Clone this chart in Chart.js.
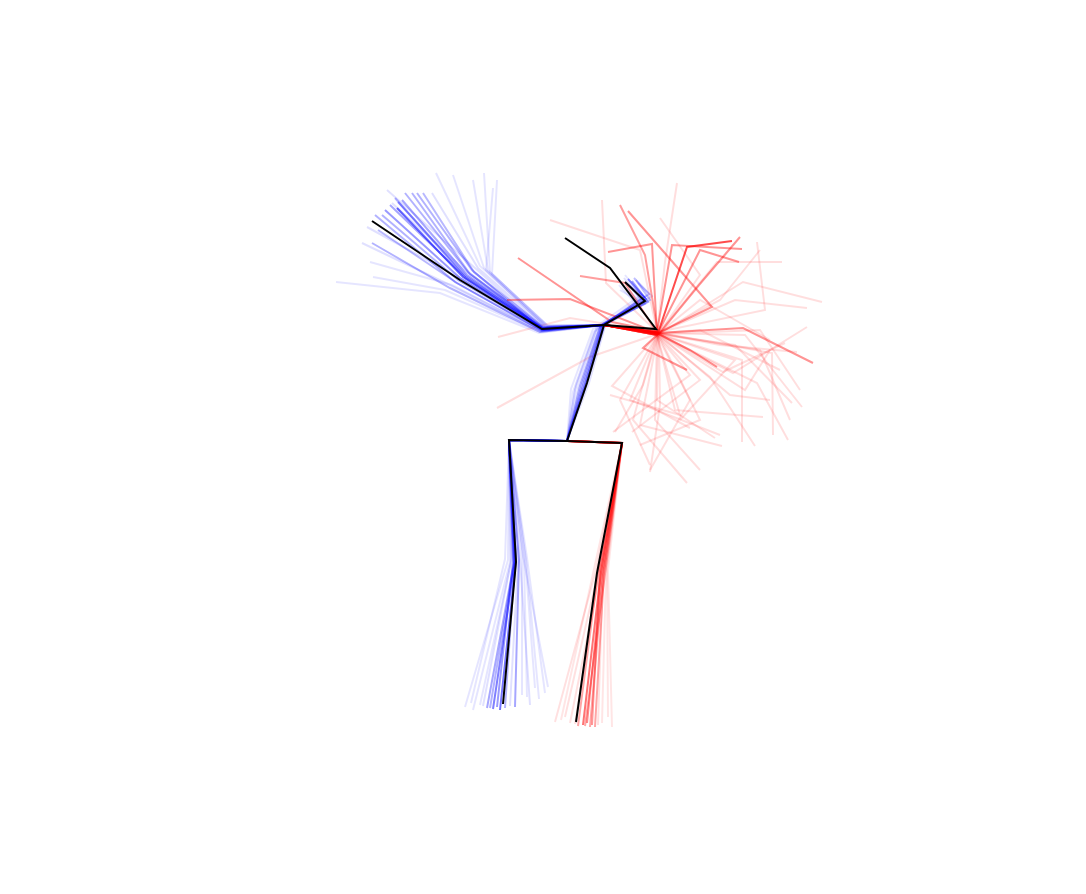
<!DOCTYPE html>
<html><head><meta charset="utf-8">
<script src="https://cdn.jsdelivr.net/npm/chart.js@4"></script>
<style>html,body{margin:0;padding:0;background:#fff;}canvas{display:block;}</style>
</head><body>
<canvas id="c" width="1086" height="894"></canvas>
<script>
// Root-relative 2D keypoints (pelvis = origin, y downward)
const meanLeftLeg = [[0,0],[-58,-1],[-51,121],[-64,263]];
const meanRightLeg = [[0,0],[55,2],[30,132],[9,281]];
const meanTorso = [[0,0],[20,-58],[37,-116],[78,-140],[58,-159]];
const meanLeftArm = [[37,-116],[-25,-112],[-107,-161],[-195,-220]];
const meanRightArm = [[37,-116],[89,-112],[43,-173],[-2,-203]];

const leftLegSamples = [
 [[0,0],[-58,-1],[-59,119],[-102,266]],
 [[0,0],[-58,-1],[-57,121],[-94,269]],
 [[0,0],[-58,-1],[-55,117],[-87,264]],
 [[0,0],[-58,-1],[-53,122],[-80,267]],
 [[0,0],[-58,-1],[-52,120],[-74,268]],
 [[0,0],[-58,-1],[-54,121],[-70,266]],
 [[0,0],[-58,-1],[-51,119],[-67,269]],
 [[0,0],[-58,-1],[-52,120],[-62,267]],
 [[0,0],[-58,-1],[-49,122],[-57,265]],
 [[0,0],[-58,-1],[-48,119],[-52,266]],
 [[0,0],[-58,-1],[-45,117],[-45,254]],
 [[0,0],[-58,-1],[-43,119],[-40,256]],
 [[0,0],[-58,-1],[-42,115],[-32,247]],
 [[0,0],[-58,-1],[-40,117],[-22,252]],
 [[0,0],[-58,-1],[-44,115],[-19,246]],
 [[0,0],[-58,-1],[-53,123],[-77,267]],
 [[0,0],[-58,-1],[-56,120],[-84,265]],
 [[0,0],[-58,-1],[-47,119],[-37,264]],
 [[0,0],[-58,-1],[-62,118],[-96,262]],
 [[0,0],[-58,-1],[-41,118],[-28,258]]
];
const leftLegAlpha = [0.1,0.1,0.1,0.35,0.5,0.4,0.55,0.3,0.12,0.35,0.1,0.1,0.1,0.1,0.1,0.3,0.12,0.12,0.1,0.1];

const rightLegSamples = [
 [[0,0],[55,2],[29,129],[-12,281]],
 [[0,0],[55,2],[31,131],[-2,276]],
 [[0,0],[55,2],[33,133],[3,282]],
 [[0,0],[55,2],[31,132],[11,285]],
 [[0,0],[55,2],[34,131],[16,284]],
 [[0,0],[55,2],[35,133],[20,282]],
 [[0,0],[55,2],[33,130],[25,284]],
 [[0,0],[55,2],[37,132],[28,286]],
 [[0,0],[55,2],[36,129],[31,284]],
 [[0,0],[55,2],[39,131],[35,282]],
 [[0,0],[55,2],[40,128],[41,276]],
 [[0,0],[55,2],[41,130],[45,286]],
 [[0,0],[55,2],[36,134],[23,286]],
 [[0,0],[55,2],[32,129],[8,283]],
 [[0,0],[55,2],[38,133],[18,285]],
 [[0,0],[55,2],[27,128],[-6,279]]
];
const rightLegAlpha = [0.12,0.12,0.12,0.35,0.55,0.45,0.4,0.35,0.12,0.1,0.1,0.1,0.35,0.12,0.35,0.1];

const torsoSamples = [
 [[0,0],[18,-57],[36,-117],[79,-142],[61,-162]],
 [[0,0],[16,-56],[35,-115],[81,-139],[65,-160]],
 [[0,0],[13,-55],[33,-114],[77,-144],[59,-158]],
 [[0,0],[20,-59],[38,-117],[83,-141],[69,-161]],
 [[0,0],[11,-53],[31,-113],[75,-138],[55,-156]],
 [[0,0],[8,-51],[29,-111],[73,-143],[57,-163]],
 [[0,0],[22,-58],[39,-118],[85,-145],[71,-158]],
 [[0,0],[15,-57],[34,-116],[78,-137],[63,-155]],
 [[0,0],[6,-49],[27,-109],[71,-140],[53,-151]],
 [[0,0],[19,-58],[37,-116],[82,-147],[67,-163]],
 [[0,0],[4,-52],[26,-112],[70,-136],[52,-156]],
 [[0,0],[9,-56],[30,-115],[74,-146],[58,-166]]
];
const torsoAlpha = [0.45,0.35,0.3,0.25,0.12,0.12,0.12,0.25,0.1,0.25,0.1,0.1];

const leftArmSamples = [
 [[37,-116],[-24,-112],[-104,-164],[-170,-233]],
 [[37,-116],[-25,-113],[-101,-165],[-169,-239]],
 [[37,-116],[-23,-111],[-99,-169],[-162,-248]],
 [[37,-116],[-24,-114],[-97,-167],[-155,-248]],
 [[37,-116],[-26,-112],[-95,-171],[-150,-248]],
 [[37,-116],[-22,-113],[-93,-169],[-144,-248]],
 [[37,-116],[-25,-110],[-112,-159],[-192,-226]],
 [[37,-116],[-24,-111],[-109,-161],[-185,-226]],
 [[37,-116],[-27,-109],[-117,-153],[-195,-198]],
 [[37,-116],[-26,-110],[-115,-155],[-205,-198]],
 [[37,-116],[-28,-108],[-127,-148],[-231,-159]],
 [[37,-116],[-27,-109],[-122,-151],[-194,-164]],
 [[37,-116],[-25,-111],[-105,-162],[-200,-214]],
 [[37,-116],[-23,-112],[-92,-173],[-180,-251]],
 [[37,-116],[-24,-113],[-97,-166],[-175,-238]],
 [[37,-116],[-22,-114],[-89,-173],[-135,-248]],
 [[37,-116],[-21,-115],[-87,-175],[-131,-268]],
 [[37,-116],[-21,-114],[-83,-173],[-114,-266]],
 [[37,-116],[-20,-115],[-79,-171],[-94,-261]],
 [[37,-116],[-20,-116],[-77,-169],[-83,-268]],
 [[37,-116],[-19,-115],[-75,-167],[-70,-261]],
 [[37,-116],[-21,-114],[-81,-171],[-74,-253]],
 [[37,-116],[-25,-112],[-107,-163],[-182,-231]],
 [[37,-116],[-24,-113],[-103,-165],[-177,-236]],
 [[37,-116],[-26,-111],[-110,-158],[-189,-211]],
 [[37,-116],[-23,-112],[-100,-166],[-165,-241]],
 [[37,-116],[-27,-110],[-115,-156],[-197,-179]],
 [[37,-116],[-25,-111],[-101,-163],[-172,-243]]
];
const leftArmAlpha = [0.6,0.35,0.3,0.3,0.3,0.28,0.3,0.3,0.3,0.12,0.1,0.1,0.12,0.12,0.12,0.12,0.1,0.1,0.1,0.1,0.1,0.1,0.4,0.35,0.28,0.35,0.1,0.3];

const rightArmSamples = [
 [[37,-116],[91,-108],[120,-194],[165,-200]],
 [[37,-116],[91,-108],[133,-191],[172,-179]],
 [[37,-116],[90,-109],[105,-196],[175,-192]],
 [[37,-116],[92,-107],[132,-156],[173,-204]],
 [[37,-116],[91,-108],[145,-134],[61,-230]],
 [[37,-116],[90,-108],[85,-197],[41,-189]],
 [[37,-116],[91,-108],[176,-113],[246,-78]],
 [[37,-116],[92,-107],[123,-91],[150,-74]],
 [[37,-116],[90,-106],[76,-93],[120,-71]],
 [[37,-116],[89,-110],[45,-119],[-49,-183]],
 [[37,-116],[89,-109],[3,-142],[-60,-141]],
 [[37,-116],[90,-108],[58,-158],[13,-165]],
 [[37,-116],[91,-108],[78,-186],[53,-236]],
 [[37,-116],[91,-108],[39,-158],[35,-241]],
 [[37,-116],[90,-107],[98,-179],[110,-258]],
 [[37,-116],[92,-108],[133,-166],[93,-223]],
 [[37,-116],[91,-109],[198,-131],[190,-199]],
 [[37,-116],[91,-107],[150,-179],[215,-179]],
 [[37,-116],[92,-107],[176,-159],[255,-139]],
 [[37,-116],[91,-108],[168,-141],[240,-133]],
 [[37,-116],[90,-106],[45,-55],[123,-13]],
 [[37,-116],[91,-106],[76,-56],[48,-9]],
 [[37,-116],[92,-106],[93,-36],[83,31]],
 [[37,-116],[90,-107],[66,-21],[120,42]],
 [[37,-116],[91,-106],[73,-16],[155,5]],
 [[37,-116],[91,-107],[90,-41],[148,-3]],
 [[37,-116],[92,-107],[175,-81],[175,1]],
 [[37,-116],[91,-106],[143,-64],[188,5]],
 [[37,-116],[92,-108],[205,-88],[206,-6]],
 [[37,-116],[91,-107],[190,-58],[221,-1]],
 [[37,-116],[92,-108],[178,-106],[235,-34]],
 [[37,-116],[91,-107],[168,-96],[225,-38]],
 [[37,-116],[90,-106],[108,-31],[196,-24]],
 [[37,-116],[91,-107],[166,-68],[240,-114]],
 [[37,-116],[92,-107],[156,-69],[218,-98]],
 [[37,-116],[91,-108],[153,-96],[230,-89]],
 [[37,-116],[91,-106],[133,-61],[65,-9]],
 [[37,-116],[90,-106],[123,-66],[46,-9]],
 [[37,-116],[90,-107],[23,-84],[-70,-33]],
 [[37,-116],[89,-109],[3,-123],[-69,-104]],
 [[37,-116],[90,-109],[73,-191],[-17,-221]],
 [[37,-116],[92,-108],[133,-141],[203,-101]],
 [[37,-116],[91,-107],[163,-46],[203,-41]],
 [[37,-116],[90,-106],[53,-41],[83,24]],
 [[37,-116],[91,-107],[133,-21],[73,4]],
 [[37,-116],[90,-106],[63,-41],[153,-6]],
 [[37,-116],[92,-108],[193,-91],[223,-21]],
 [[37,-116],[91,-107],[178,-51],[203,-91]],
 [[37,-116],[90,-106],[113,-26],[43,-46]],
 [[37,-116],[92,-108],[133,-111],[213,-71]],
 [[37,-116],[91,-107],[168,-81],[113,-21]],
 [[37,-116],[90,-106],[88,-21],[133,29]],
 [[37,-116],[92,-108],[153,-141],[193,-191]],
 [[37,-116],[91,-107],[193,-111],[233,-51]],
 [[37,-116],[90,-106],[123,-41],[83,29]]
];
const rightArmAlpha = [0.7,0.42,0.42,0.42,0.42,0.42,0.42,0.45,0.42,0.42,0.42,0.38,0.38,
 0.13,0.13,0.13,0.13,0.13,0.13,0.13,0.13,0.13,0.13,0.13,0.13,0.13,0.13,0.13,0.13,0.13,
 0.13,0.13,0.13,0.13,0.13,0.13,0.13,0.13,0.13,0.13,0.13,0.13,0.13,0.13,
 0.13,0.13,0.13,0.13,0.13,0.13,0.13,0.13,0.13,0.13,0.13];

const BLUE = '0,0,255';
const RED = '255,0,0';

const datasets = [];
function toPoints(chain){ return chain.map(p => ({x:p[0], y:p[1]})); }
function addGroup(chains, alphas, rgb){
  chains.forEach((c, i) => {
    const a = alphas[i];
    datasets.push({
      data: toPoints(c), showLine: true, fill: false, tension: 0,
      borderColor: 'rgba(' + rgb + ',' + a + ')', borderWidth: 2,
      pointRadius: 0, pointHoverRadius: 0,
      order: Math.round((1 - a) * 100) + 1
    });
  });
}
addGroup(rightArmSamples, rightArmAlpha, RED);
addGroup(rightLegSamples, rightLegAlpha, RED);
addGroup(leftArmSamples, leftArmAlpha, BLUE);
addGroup(leftLegSamples, leftLegAlpha, BLUE);
addGroup(torsoSamples, torsoAlpha, BLUE);
[meanLeftLeg, meanRightLeg, meanTorso, meanLeftArm, meanRightArm].forEach(c => {
  datasets.push({
    data: toPoints(c), showLine: true, fill: false, tension: 0,
    borderColor: '#000000', borderWidth: 2, pointRadius: 0, pointHoverRadius: 0, order: 0
  });
});

new Chart(document.getElementById('c').getContext('2d'), {
  type: 'scatter',
  data: { datasets },
  options: {
    responsive: false, animation: false, events: [],
    layout: { padding: 0 },
    plugins: { legend: { display: false }, tooltip: { enabled: false } },
    scales: {
      x: { type: 'linear', min: -567, max: 519, display: false },
      y: { type: 'linear', min: -441, max: 453, reverse: true, display: false }
    }
  }
});
</script>
</body></html>
